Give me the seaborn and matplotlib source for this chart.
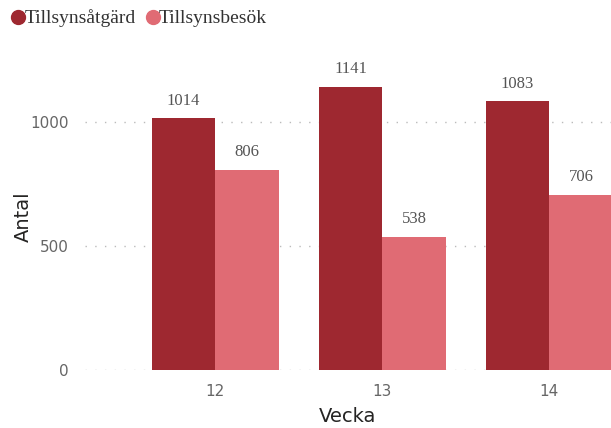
import matplotlib
matplotlib.use("Agg")
import matplotlib.pyplot as plt
import pandas as pd
import seaborn as sns
from matplotlib.lines import Line2D

weeks = ["12", "13", "14"]
series = ["Tillsynsåtgärd", "Tillsynsbesök"]
atgard = [1014, 1141, 1083]
besok = [806, 538, 706]
colors = ["#9E2830", "#E06B74"]

df = pd.DataFrame({
    "Vecka": weeks * 2,
    "Antal": atgard + besok,
    "serie": [series[0]] * 3 + [series[1]] * 3,
})

sns.set_theme(style="white")
fig = plt.figure(figsize=(6.11, 4.28), dpi=100)
ax = fig.add_axes([85 / 611, 58 / 428, 1 - 85 / 611, 320 / 428])

sns.barplot(data=df, x="Vecka", y="Antal", hue="serie", palette=colors,
            width=0.76, gap=0, saturation=1, linewidth=0, ax=ax,
            legend=False, errorbar=None)

for cont in ax.containers:
    ax.bar_label(cont, padding=7, fontsize=12, color="#555555",
                 family="Liberation Serif")

ax.set_xlim(-0.78, 2.37)
ax.set_ylim(0, 1290)
ax.set_yticks([0, 500, 1000])
ax.yaxis.grid(True, linestyle=(0, (1, 6)), color="#BBBBBB", linewidth=1)
ax.set_axisbelow(True)
sns.despine(ax=ax, left=True, bottom=True)
ax.tick_params(axis="both", length=0, labelsize=11, labelcolor="#666666", pad=12)
ax.tick_params(axis="x", pad=10)
ax.set_xlabel("Vecka", fontsize=14, color="#252423", labelpad=6)
ax.set_ylabel("Antal", fontsize=14, color="#252423", fontweight="medium")
ax.yaxis.set_label_coords(-0.1, 0.48)

handles = [Line2D([], [], marker="o", linestyle="", markersize=10, color=c) for c in colors]
fig.legend(handles, series, loc="upper left", bbox_to_anchor=(-0.008, 1.005), ncol=2,
           frameon=False, handletextpad=-0.3, columnspacing=0.3, borderaxespad=0.2,
           handlelength=1.2, prop={"family": "Liberation Serif", "size": 14},
           labelcolor="#333333")

fig.savefig("out.png", dpi=100)
